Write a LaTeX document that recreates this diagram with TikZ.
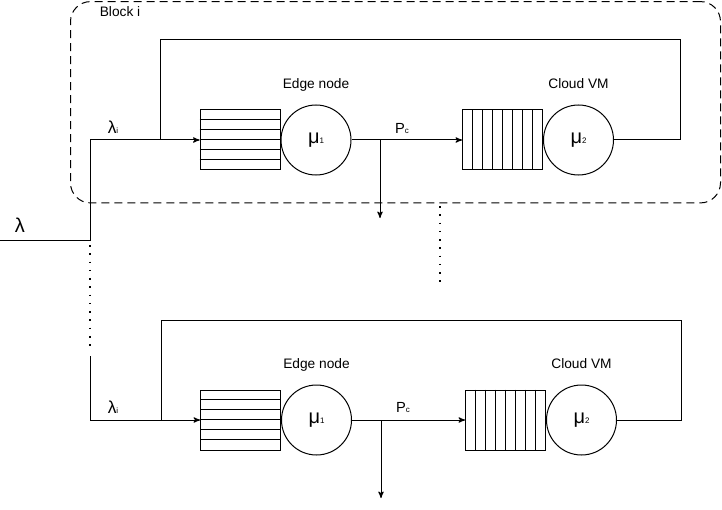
\documentclass[tikz,border=0pt]{standalone}
\usepackage{fontspec}
\setmainfont{Liberation Sans}
\usetikzlibrary{arrows,positioning}

\newcommand{\lo}[1]{{\fontsize{6pt}{6pt}\selectfont #1}}

\begin{document}
\begin{tikzpicture}[x=0.75pt,y=-0.75pt,>=stealth',line width=0.75pt,
    queue node/.style={draw,minimum width=60pt,minimum height=45pt,inner sep=0pt},
    server node/.style={draw,circle,minimum size=52.5pt,inner sep=0pt,font=\fontsize{15pt}{15pt}\selectfont},
    text node/.style={font=\fontsize{10.3pt}{11pt}\selectfont,text height=7.5pt,text depth=2pt},
    dots/.style={line width=1.2pt,dash pattern=on 1.2pt off 5pt}]

    \useasboundingbox (0,0) rectangle (722,510);

    % block i
    \node[draw,dashed,dash pattern=on 6pt off 3.75pt,rounded corners=15pt,
        minimum width=487.5pt,minimum height=151pt] (0) at (395.5,102.25) {};
    \node[text node,below right=1pt and 19pt of 0.north west,inner sep=3pt] {Block i};

    \node[queue node] (1) at (240,140) {};
    \node[server node] (2) [right=0pt of 1] {μ\lo{1}};
    \node[queue node] (3) at (502.5,140) {};
    \node[server node] (4) [right=0pt of 3] {μ\lo{2}};
    \foreach \k in {1,...,5}
        \draw ([yshift=-\k*7.5pt]1.north west) -- ([yshift=-\k*7.5pt]1.north east);
    \foreach \k in {1,...,7}
        \draw ([xshift=\k*7.5pt]3.north west) -- ([xshift=\k*7.5pt]3.south west);

    \node[text node] (e1) [above=6pt of 2] {Edge node};
    \node[text node] (v1) [above=6pt of 4] {Cloud VM};
    \node[font=\fontsize{11pt}{11pt}\selectfont] (p1) at (402,128) {P\lo{c}};
    \node[font=\fontsize{13pt}{13pt}\selectfont] (l1) at (113,127) {λ\lo{i}};
    \node[font=\fontsize{15pt}{15pt}\selectfont] (l0) at (20,225) {λ};

    \coordinate (in) at (0,240);
    \coordinate (j1) at (90,140);
    \coordinate (f1) at (160,140);
    \coordinate (r1) at (680,40);
    \coordinate (b1) at (380,140);
    \coordinate (o1) at (380,218);

    \draw[->] (in) -| (j1) -- (1.west);
    \draw[->] (2.east) -- (3.west);
    \draw[->] (b1) -- (o1);
    \draw (4.east) -| (r1) -| (f1);

    % dotted gaps
    \coordinate (d1) at (90,245);
    \coordinate (d2) at (90,352);
    \coordinate (d3) at (440,206);
    \coordinate (d4) at (440,282);
    \draw[dots] (d1) -- (d2);
    \draw[dots] (d3) -- (d4);

    % block N
    \node[queue node] (5) at (240.5,420) {};
    \node[server node] (6) [right=0pt of 5] {μ\lo{1}};
    \node[queue node] (7) at (505.5,420) {};
    \node[server node] (8) [right=0pt of 7] {μ\lo{2}};
    \foreach \k in {1,...,5}
        \draw ([yshift=-\k*7.5pt]5.north west) -- ([yshift=-\k*7.5pt]5.north east);
    \foreach \k in {1,...,7}
        \draw ([xshift=\k*7.5pt]7.north west) -- ([xshift=\k*7.5pt]7.south west);

    \node[text node] (e2) [above=6pt of 6] {Edge node};
    \node[text node] (v2) [above=6pt of 8] {Cloud VM};
    \node[font=\fontsize{11pt}{11pt}\selectfont] (p2) at (403,407) {P\lo{c}};
    \node[font=\fontsize{13pt}{13pt}\selectfont] (l2) at (113,407) {λ\lo{i}};

    \coordinate (j2) at (90,356);
    \coordinate (f2) at (161,420);
    \coordinate (r2) at (681,320);
    \coordinate (b2) at (381,420);
    \coordinate (o2) at (381,498);

    \draw[->] (j2) |- (5.west);
    \draw[->] (6.east) -- (7.west);
    \draw[->] (b2) -- (o2);
    \draw (8.east) -| (r2) -| (f2);
\end{tikzpicture}
\end{document}
